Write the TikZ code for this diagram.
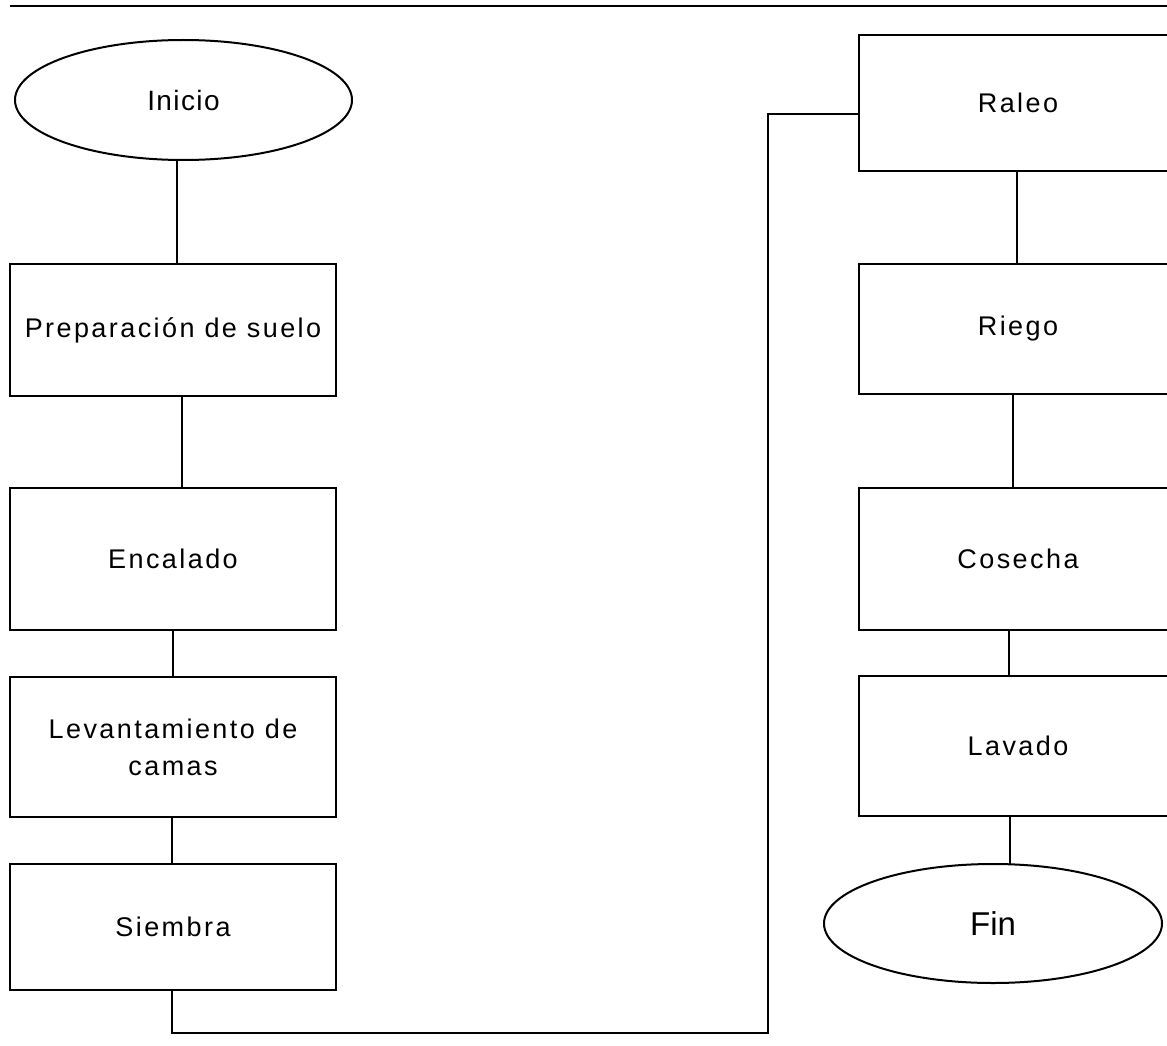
\documentclass[tikz,border=0pt]{standalone}
\usepackage{fontspec}
\setmainfont{Liberation Sans}
\newfontfamily\lab{Liberation Sans}[LetterSpace=9]
\newfontfamily\labini{Liberation Sans}[LetterSpace=5]
\newfontfamily\labfin{Liberation Sans}
\usetikzlibrary{shapes.geometric}
\begin{document}
\begin{tikzpicture}[x=1pt,y=-1pt,line width=2pt,
  every node/.style={inner sep=0pt,outer sep=0pt,align=center},
  stepbox/.style={draw,rectangle,font=\lab\fontsize{27}{37}\selectfont},
  lbox/.style={stepbox,minimum width=326},
  rbox/.style={stepbox,minimum width=318},
  term/.style={draw,ellipse}]
\useasboundingbox (0,0) rectangle (1167,1046);
\draw (10,6.5) -- (1180,6.5);
% left column
\node[term,minimum width=337,minimum height=120,font=\labini\fontsize{28}{30}\selectfont] (inicio) at (183.5,100) {Inicio};
\node[lbox,minimum height=132] (prep) at (173,330) {Preparación de suelo};
\node[lbox,minimum height=142] (enc) at (173,559) {Encalado};
\node[lbox,minimum height=140] (lev) at (173,747) {Levantamiento de\\camas};
\node[lbox,minimum height=126] (siem) at (173,927) {Siembra};
% right column
\node[rbox,minimum height=136] (raleo) at (1018,103) {Raleo};
\node[rbox,minimum height=130] (riego) at (1018,329) {Riego};
\node[rbox,minimum height=142] (cos) at (1018,559) {Cosecha};
\node[rbox,minimum height=140] (lav) at (1018,746) {Lavado};
\node[term,minimum width=338,minimum height=119,font=\labfin\fontsize{33}{36}\selectfont] (fin) at (993,923.5) {Fin};
% connectors
\draw ([xshift=-7pt]inicio.south) -- ([xshift=-7pt]inicio.south |- prep.north);
\draw ([xshift=9pt]prep.south) -- ([xshift=9pt]prep.south |- enc.north);
\draw (enc.south) -- (lev.north);
\draw ([xshift=-1pt]lev.south) -- ([xshift=-1pt]lev.south |- siem.north);
\coordinate (c1) at (768,1033);
\draw ([xshift=-1pt]siem.south) |- (c1) |- ([yshift=-11pt]raleo.west);
\draw ([xshift=-1pt]raleo.south) -- ([xshift=-1pt]raleo.south |- riego.north);
\draw ([xshift=-5pt]riego.south) -- ([xshift=-5pt]riego.south |- cos.north);
\draw ([xshift=-9pt]cos.south) -- ([xshift=-9pt]cos.south |- lav.north);
\draw ([xshift=-8pt]lav.south) -- ([xshift=-8pt]lav.south |- fin.north);
\end{tikzpicture}
\end{document}
